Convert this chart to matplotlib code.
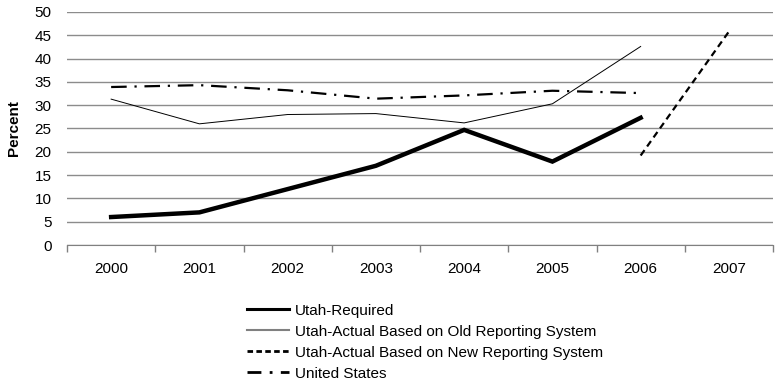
import numpy as np
import matplotlib
matplotlib.use("Agg")
import matplotlib.pyplot as plt
from matplotlib.lines import Line2D

plt.rcParams["font.family"] = ["Liberation Sans", "DejaVu Sans"]

# chart data
years = ["2000", "2001", "2002", "2003", "2004", "2005", "2006", "2007"]
utah_required = [6.0, 7.0, 12.0, 17.0, 24.7, 17.9, 27.3, np.nan]
utah_old = [31.3, 26.0, 28.0, 28.2, 26.2, 30.3, 42.6, np.nan]
utah_new = [np.nan, np.nan, np.nan, np.nan, np.nan, np.nan, 19.2, 45.8]
united_states = [33.9, 34.3, 33.2, 31.4, 32.1, 33.1, 32.6, np.nan]

labels = ["Utah-Required",
          "Utah-Actual Based on Old Reporting System",
          "Utah-Actual Based on New Reporting System",
          "United States"]

fig = plt.figure(figsize=(7.81, 3.83), dpi=100)
ax = fig.add_axes([0.0858, 0.3603, 0.9040, 0.6084])

x = np.arange(len(years))
ax.plot(x, utah_required, color="black", lw=3.2, solid_joinstyle="miter")
ax.plot(x, utah_old, color="black", lw=0.7)
ax.plot(x, utah_new, color="black", lw=1.6, dashes=(3, 2))
ax.plot(x, united_states, color="black", lw=1.6, dashes=(7, 3.5, 1, 3.5))

ax.set_xlim(-0.5, len(years) - 0.5)
ax.set_ylim(0, 50)
ax.set_yticks(np.arange(0, 51, 5))
ax.set_xticks(x)
ax.set_xticklabels(years)
ax.set_xticks(np.arange(-0.5, len(years), 1), minor=True)
ax.tick_params(axis="x", which="major", length=0, pad=12, labelsize=11)
ax.tick_params(axis="x", which="minor", length=5, color="#808080", width=1)
ax.tick_params(axis="y", length=0, pad=11, labelsize=11)

ax.grid(axis="y", color="#8c8c8c", lw=1)
ax.set_axisbelow(True)
for s in ["top", "right", "left"]:
    ax.spines[s].set_visible(False)
ax.spines["bottom"].set_color("#808080")

ax.set_ylabel("Percent", fontweight="bold", fontsize=11, labelpad=10)

# legend keys look a bit different from the plotted lines
handles = [Line2D([], [], color="black", lw=2.2),
           Line2D([], [], color="#808080", lw=1.5),
           Line2D([], [], color="black", lw=2.0, dashes=(2, 1.2)),
           Line2D([], [], color="black", lw=2.0, dashes=(5, 3, 1, 3))]
fig.legend(handles, labels, loc="upper left", bbox_to_anchor=(0.316, 0.207),
           frameon=False, fontsize=11, handlelength=2.75, handletextpad=0.4,
           labelspacing=0.46, borderpad=0, borderaxespad=0)

plt.savefig("out.png", dpi=100)
